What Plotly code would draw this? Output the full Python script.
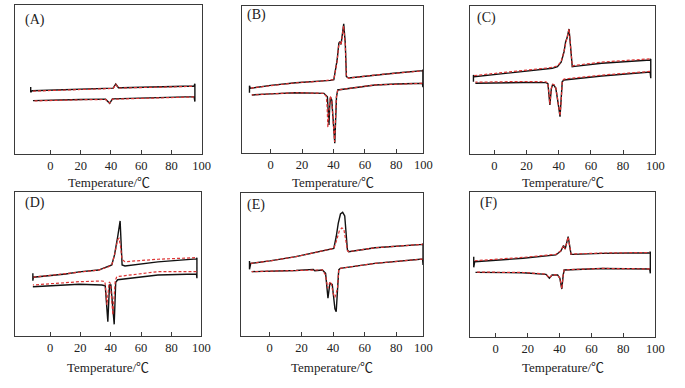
import plotly.graph_objects as go

W, H = 685, 388

# ---------------- data (Temperature in degC, heat flow in arbitrary units) ----------------
A_T_blk = [-13, -13, -12, 0, 20, 38, 41.5, 43.2, 45, 47, 60, 80, 95, 95.5, 95.5, 95, 80, 60, 45, 41, 39.2, 36.5, 20, 0, -11.5]
A_Y_blk = [45.0, 41.5, 42.5, 42.9, 43.5, 44.1, 44.2, 47.0, 44.5, 44.5, 44.9, 45.3, 45.6, 47.2, 35.2, 38.5, 38.1, 37.6, 37.2, 37.0, 34.0, 36.8, 36.6, 36.1, 35.8]
A_T_red = [-11.5, 0, 20, 38, 41.5, 43.2, 45, 47, 60, 80, 95, None, 95, 80, 60, 45, 41, 39.2, 36.5, 20, 0, -11.5]
A_Y_red = [42.2, 42.6, 43.2, 43.9, 44.0, 46.7, 44.3, 44.3, 44.7, 45.1, 45.4, None, 38.3, 37.9, 37.4, 37.0, 36.8, 34.2, 36.6, 36.4, 35.9, 35.6]

B_T_blk = [-13.5, -13.5, -13, 0, 16, 30, 38, 40.2, 42.3, 43.4, 44.0, 44.8, 46.5, 47.5, 48.2, 49.6, 66.4, 80, 96.6, 96.9, 96.9, 96.6, 80, 66.4, 42.7, 41.9, 40.8, 39.8, 38.9, 38.1, 37.6, 37.1, 36.6, 36.1, 33.9, 16, 0, -12]
B_Y_blk = [41.0, 45.8, 44.0, 46.0, 47.8, 48.7, 49.4, 49.9, 63.3, 74.6, 75.7, 73.9, 87.8, 74.6, 51.9, 51.0, 53.0, 54.4, 56.0, 56.6, 44.7, 47.4, 46.9, 46.3, 42.9, 38.3, 6.6, 25.0, 36.0, 37.9, 32.0, 19.0, 32.0, 38.3, 40.6, 41.0, 40.2, 39.5]
B_T_red = [-12.5, 0, 16, 30, 38, 40.2, 42.3, 43.4, 44.0, 44.8, 46.4, 47.5, 48.2, 49.6, 66.4, 80, 96.5, None, 96.5, 80, 66.4, 42.7, 41.8, 40.7, 39.7, 38.8, 37.9, 37.3, 36.4, 35.9, 35.4, 33.9, 16, 0, -12]
B_Y_red = [44.2, 46.0, 47.8, 48.7, 49.4, 49.9, 62.5, 74.0, 75.2, 73.5, 86.5, 74.0, 52.0, 51.0, 53.0, 54.4, 55.9, None, 47.4, 46.9, 46.3, 42.9, 37.5, 7.5, 26.0, 36.0, 38.8, 32.0, 17.5, 32.0, 38.5, 40.6, 41.0, 40.2, 39.5]

C_T_blk = [-13, -13, -12.5, 0, 17.8, 36, 39.2, 41.5, 43.3, 44.3, 45.2, 46.4, 47.4, 48.4, 50, 66.7, 96.8, 97.2, 97.2, 96.8, 66.7, 43.3, 42.2, 41.5, 40.8, 39.8, 38.2, 37, 36.1, 35.4, 34.5, 33.3, 32, 17.8, 0, -11.8]
C_Y_blk = [48.9, 53.4, 52.2, 53.6, 55.6, 57.9, 59.0, 62.0, 69.1, 75.9, 78.5, 84.5, 72.0, 59.0, 59.2, 61.3, 63.5, 64.2, 51.2, 55.4, 52.7, 50.0, 48.9, 35.0, 25.2, 33.0, 44.4, 46.5, 46.6, 44.0, 33.1, 47.5, 48.2, 48.3, 48.0, 47.8]
C_T_red = [-12.5, 0, 17.8, 36, 39.2, 41.5, 43.3, 44.3, 45.2, 46.4, 47.4, 48.4, 50, 66.7, 96.8, None, 96.8, 66.7, 43.3, 42.2, 41.5, 40.8, 39.8, 38.2, 37, 36.1, 35.4, 34.5, 33.3, 32, 17.8, 0, -11.8]
C_Y_red = [53.0, 54.3, 56.3, 58.5, 59.6, 62.3, 69.5, 76.0, 78.8, 84.5, 72.0, 59.5, 59.9, 62.1, 64.3, None, 55.8, 53.3, 50.6, 49.4, 35.5, 25.8, 33.5, 44.8, 47.0, 47.2, 44.5, 33.6, 47.9, 48.8, 49.0, 48.7, 48.5]

D_T_blk = [-11.3, -11.3, -11, 10.4, 19.1, 32, 38.6, 40.7, 42.5, 43.4, 44.6, 46.2, 46.8, 47.5, 49.4, 71.1, 96.5, 96.8, 96.8, 96.5, 71.1, 44.6, 43.3, 42.3, 40.1, 39.2, 38.1, 36.4, 34.2, 19.1, -11.3]
D_Y_blk = [43.5, 38.4, 40.8, 43.1, 44.5, 45.8, 48.1, 49.3, 56.3, 63.2, 69.0, 79.9, 67.8, 49.3, 48.6, 51.5, 53.5, 54.4, 40.1, 43.1, 42.4, 39.1, 37.3, 8.1, 35.4, 35.4, 9.9, 34.8, 35.4, 35.9, 34.2]
D_T_red = [-11, 10.4, 19.1, 32, 38.6, 40.7, 42.5, 43.4, 44.6, 45.5, 46.5, 47.5, 49.4, 71.1, 96.5, None, 96.5, 71.1, 44.0, 43.0, 41.4, 39.8, 39.0, 37.5, 36.2, 34.2, 19.1, -11.3]
D_Y_red = [40.8, 43.1, 44.5, 45.8, 48.1, 49.3, 56.3, 62.0, 67.0, 67.8, 62.0, 53.0, 51.6, 53.3, 54.4, None, 44.7, 44.7, 41.2, 38.5, 14.6, 36.5, 37.5, 21.5, 37.8, 38.2, 37.7, 35.4]

E_T_blk = [-12.8, -12.8, -12, 0, 16.6, 37.4, 40.5, 42, 43.3, 44.7, 46.1, 47.4, 48.3, 49.1, 49.9, 66.5, 96.6, 96.9, 96.9, 96.6, 66.5, 44.6, 43.6, 43.1, 42.6, 42.0, 41.2, 40.3, 39.5, 38.0, 36.8, 35.3, 33.3, 28.5, 27.5, 16.6, -11.4]
E_Y_blk = [52.4, 46.6, 50.8, 52.5, 55.5, 60.1, 61.3, 69.4, 78.8, 85.3, 86.5, 83.9, 69.4, 60.1, 59.0, 61.7, 64.1, 64.6, 49.7, 53.8, 50.8, 47.3, 46.2, 34.5, 20.0, 17.0, 19.0, 28.0, 36.0, 36.8, 26.4, 43.8, 46.2, 45.6, 46.6, 45.8, 45.0]
E_T_red = [-12, 0, 16.6, 37.4, 40.5, 42, 44, 45.5, 46.8, 48.2, 49.2, 49.9, 66.5, 96.6, None, 96.6, 66.5, 44.6, 43.6, 42.8, 41.2, 40.0, 38.8, 37.8, 36.6, 35.3, 33.3, 16.6, -11.4]
E_Y_red = [50.8, 52.5, 55.5, 60.1, 61.3, 66.0, 73.5, 75.5, 75.0, 66.0, 59.5, 59.0, 61.7, 64.1, None, 53.8, 50.8, 47.3, 46.2, 33.0, 27.0, 30.0, 38.0, 37.0, 33.5, 42.5, 46.2, 45.8, 45.0]

F_T_blk = [-13.8, -13.8, -13.2, 12, 17.1, 37.7, 40.8, 42.5, 43.5, 45.4, 46.4, 47.2, 48.6, 66.6, 96.5, 96.9, 96.9, 96.5, 66.6, 42.9, 42.3, 41.4, 40.2, 38.8, 35.3, 33.6, 31.5, 17.1, -12.7]
F_Y_blk = [55.4, 48.1, 51.9, 53.8, 54.3, 56.6, 59.3, 63.0, 60.7, 69.2, 63.4, 57.0, 57.0, 57.7, 58.1, 58.8, 43.9, 46.9, 47.2, 46.2, 42.8, 33.1, 40.5, 42.8, 42.8, 40.5, 43.2, 44.3, 44.6]
F_T_red = [-13.2, 12, 17.1, 37.7, 40.8, 42.5, 43.5, 45.4, 46.4, 47.2, 48.6, 66.6, 96.5, None, 96.5, 66.6, 42.9, 42.3, 41.4, 40.2, 38.8, 35.3, 33.6, 31.5, 17.1, -12.7]
F_Y_red = [52.6, 54.4, 54.9, 57.0, 59.5, 63.0, 60.7, 69.0, 63.4, 57.2, 57.3, 57.9, 58.3, None, 47.0, 47.3, 46.3, 42.8, 33.3, 40.5, 42.8, 42.8, 40.7, 43.4, 44.5, 44.8]

PANEL_LABELS = ["(A)", "(B)", "(C)", "(D)", "(E)", "(F)"]
X_TICKS = [0, 20, 40, 60, 80, 100]
X_TITLE = "Temperature/℃"

# ---------------- layout geometry (pixels) ----------------
boxes = [  # left, right, top, bottom
    (15, 205, 5, 154), (245, 429, 6, 153), (476, 664, 6, 154),
    (15, 204, 192, 336), (244, 429, 193, 336), (476, 664, 192, 337),
]
xranges = [(-23.5, 100.4), (-18.4, 97.2), (-15.3, 100), (-23.2, 99.7), (-18.3, 97.1), (-16.3, 100)]
label_pos = [(23, 20), (248, 15), (481, 18), (23, 203), (248, 205), (484, 203)]
title_y = [182, 182, 182, 367, 367, 367]

series = [
    (A_T_blk, A_Y_blk, A_T_red, A_Y_red),
    (B_T_blk, B_Y_blk, B_T_red, B_Y_red),
    (C_T_blk, C_Y_blk, C_T_red, C_Y_red),
    (D_T_blk, D_Y_blk, D_T_red, D_Y_red),
    (E_T_blk, E_Y_blk, E_T_red, E_Y_red),
    (F_T_blk, F_Y_blk, F_T_red, F_Y_red),
]

SERIF = "Liberation Serif, Times New Roman, Noto Sans CJK SC, serif"
FRAME = "#3a3a3a"

fig = go.Figure()
layout = dict(
    width=W, height=H, margin=dict(l=0, r=0, t=0, b=0),
    paper_bgcolor="white", plot_bgcolor="white", showlegend=False,
    annotations=[],
)

for i, ((tb, yb, tr, yr), box, xr) in enumerate(zip(series, boxes, xranges)):
    n = i + 1
    xa = "x" if n == 1 else f"x{n}"
    ya = "y" if n == 1 else f"y{n}"
    fig.add_trace(go.Scatter(x=tb, y=yb, mode="lines", xaxis=xa, yaxis=ya,
                             line=dict(color="#111111", width=1.4), hoverinfo="skip"))
    fig.add_trace(go.Scatter(x=tr, y=yr, mode="lines", xaxis=xa, yaxis=ya,
                             line=dict(color="#dd3333", width=1.2, dash="3px,2px"),
                             hoverinfo="skip"))
    l, r, t, b = box
    tickvals = [v for v in X_TICKS if v < 100] + [xr[1] if xr[1] < 100 else 100]
    ticktext = [str(v) for v in X_TICKS]
    layout["xaxis" if n == 1 else f"xaxis{n}"] = dict(
        domain=[l / W, r / W], anchor=ya, range=list(xr),
        tickvals=tickvals, ticktext=ticktext,
        ticks="inside", ticklen=4, tickwidth=1, tickcolor=FRAME,
        showline=True, linecolor=FRAME, linewidth=1, mirror=True,
        showgrid=False, zeroline=False,
        tickfont=dict(family=SERIF, size=12.5, color="#222222"),
    )
    layout["yaxis" if n == 1 else f"yaxis{n}"] = dict(
        domain=[1 - b / H, 1 - t / H], anchor=xa, range=[0, 100],
        showticklabels=False, ticks="", showline=True, linecolor=FRAME,
        linewidth=1, mirror=True, showgrid=False, zeroline=False,
    )
    lx, ly = label_pos[i]
    layout["annotations"].append(dict(
        text=PANEL_LABELS[i], xref="paper", yref="paper", x=lx / W, y=1 - ly / H,
        xanchor="left", yanchor="middle", showarrow=False,
        font=dict(family=SERIF, size=14, color="#222222")))
    layout["annotations"].append(dict(
        text=X_TITLE, xref="paper", yref="paper", x=(l + r) / 2 / W, y=1 - title_y[i] / H,
        xanchor="center", yanchor="middle", showarrow=False,
        font=dict(family=SERIF, size=13, color="#222222")))

fig.update_layout(**layout)
fig.write_html("out.html", config={"displayModeBar": False},
               post_script="document.body.style.margin='0';document.body.style.overflow='hidden';")
